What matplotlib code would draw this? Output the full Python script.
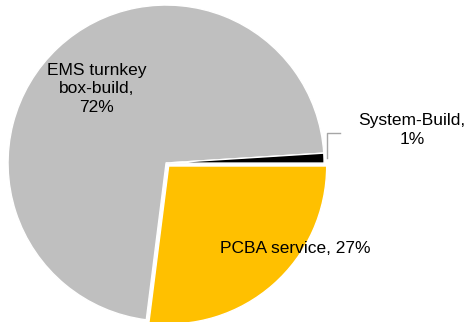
import numpy as np
import matplotlib
matplotlib.use("Agg")
import matplotlib.pyplot as plt

# revenue split by segment
segments = ["PCBA service", "EMS turnkey\nbox-build", "System-Build"]
shares = [27, 72, 1]
colors = ["#FFC000", "#BFBFBF", "#000000"]
explode = [0.025, 0, 0]

plt.rcParams['font.family'] = ['Liberation Sans', 'DejaVu Sans']

fig = plt.figure(figsize=(4.71, 3.22), dpi=100)
ax = fig.add_axes([0, 0, 1, 1])

wedges, _ = ax.pie(shares, colors=colors, explode=explode, startangle=0,
                   counterclock=False, radius=1.0,
                   wedgeprops=dict(edgecolor="white", linewidth=1.0))

ax.set_xlim(-1.051, 1.930)
ax.set_ylim(-1.006, 1.032)
ax.set_aspect("equal")
ax.axis("off")

def mid_angle(w):
    return np.deg2rad((w.theta1 + w.theta2) / 2)

# EMS label inside the slice
a = mid_angle(wedges[1])
ax.text(0.645 * np.cos(a), 0.645 * np.sin(a),
        f"{segments[1]},\n{shares[1]}%", ha="center", va="center",
        fontsize=12.5, linespacing=1.3)

# PCBA label
ax.text(0.34, -0.54, f"{segments[0]}, {shares[0]}%", ha="left", va="center",
        fontsize=12.5)

# System-Build label with leader line
a = mid_angle(wedges[2])
x0, y0 = 1.02 * np.cos(a), 1.02 * np.sin(a)
ax.plot([x0, x0, x0 + 0.08], [y0, 0.19, 0.19], color="#A6A6A6", lw=1.0)
ax.text(1.557, 0.21, f"{segments[2]},\n{shares[2]}%", ha="center", va="center",
        fontsize=12.5, linespacing=1.3)

fig.savefig("out.png", dpi=100)
